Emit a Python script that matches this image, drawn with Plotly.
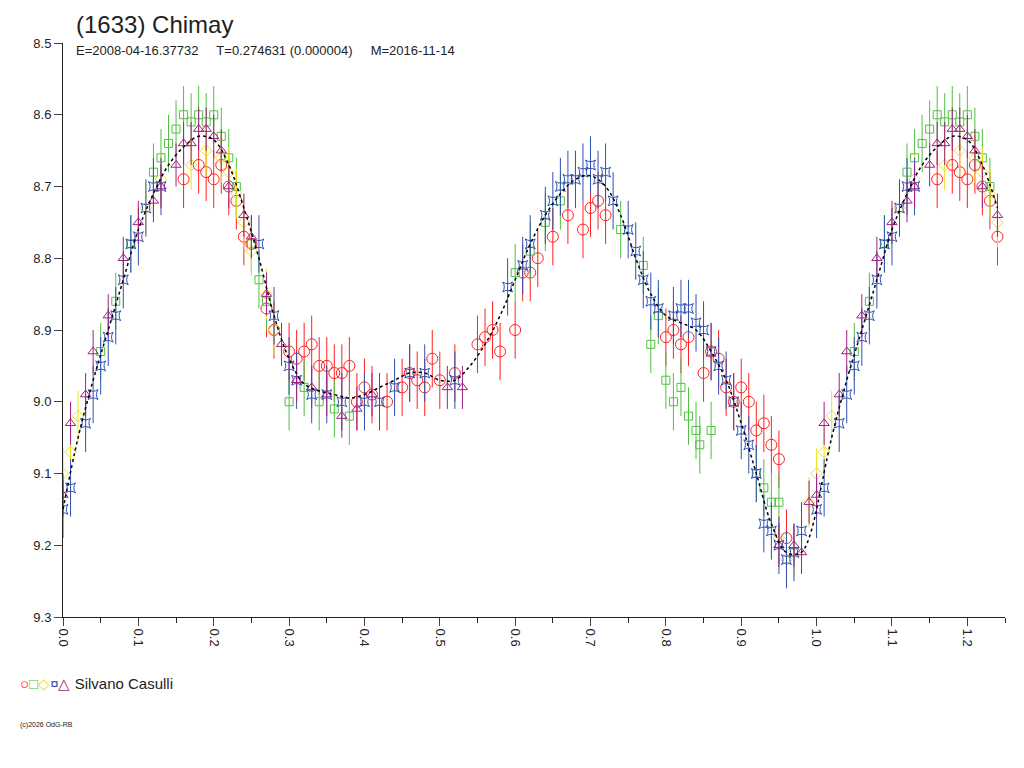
import plotly.graph_objects as go

curve_phase = [0.0,0.02,0.04,0.06,0.08,0.10,0.12,0.14,0.16,0.18,0.20,0.22,0.24,0.26,0.28,0.30,0.32,0.34,0.36,0.38,0.40,0.42,0.44,0.46,0.48,0.50,0.52,0.54,0.56,0.58,0.60,0.62,0.64,0.66,0.68,0.70,0.72,0.74,0.76,0.78,0.80,0.82,0.84,0.86,0.88,0.90,0.92,0.94,0.96,0.98,1.00]
curve_mag = [9.15,9.05,8.97,8.90,8.83,8.76,8.71,8.67,8.645,8.63,8.635,8.67,8.73,8.80,8.88,8.94,8.975,8.985,8.99,8.995,8.99,8.98,8.97,8.96,8.96,8.97,8.97,8.95,8.92,8.88,8.83,8.78,8.74,8.71,8.69,8.685,8.70,8.74,8.80,8.85,8.88,8.89,8.90,8.93,8.97,9.03,9.10,9.17,9.21,9.21,9.15]

red_phase = [0.16,0.18,0.19,0.20,0.21,0.22,0.23,0.24,0.25,0.27,0.28,0.30,0.31,0.32,0.33,0.34,0.35,0.36,0.37,0.38,0.39,0.40,0.41,0.43,0.45,0.46,0.47,0.48,0.49,0.50,0.52,0.55,0.56,0.57,0.58,0.60,0.61,0.62,0.63,0.65,0.67,0.69,0.70,0.71,0.72,0.80,0.81,0.82,0.83,0.85,0.86,0.87,0.88,0.89,0.90,0.91,0.92,0.93,0.94,0.95,0.96]
red_mag = [8.69,8.67,8.68,8.69,8.67,8.70,8.72,8.77,8.78,8.87,8.90,8.93,8.94,8.93,8.92,8.95,8.95,8.96,8.96,8.95,9.00,8.98,8.99,9.00,8.98,8.96,8.97,8.98,8.94,8.97,8.96,8.92,8.91,8.90,8.93,8.90,8.82,8.82,8.80,8.77,8.74,8.76,8.73,8.72,8.74,8.91,8.90,8.92,8.91,8.96,8.93,8.94,8.98,9.00,8.98,9.00,9.04,9.03,9.06,9.08,9.19]

green_phase = [0.05,0.07,0.09,0.12,0.13,0.14,0.15,0.16,0.17,0.18,0.19,0.20,0.21,0.22,0.23,0.25,0.26,0.27,0.30,0.32,0.34,0.36,0.38,0.60,0.62,0.64,0.66,0.74,0.77,0.79,0.78,0.80,0.81,0.82,0.83,0.84,0.845,0.86,0.92,0.93,0.94,0.95]
green_mag = [8.93,8.86,8.78,8.68,8.66,8.64,8.62,8.60,8.61,8.60,8.61,8.60,8.63,8.66,8.70,8.78,8.83,8.86,9.00,8.98,9.00,9.01,9.02,8.82,8.79,8.75,8.72,8.76,8.81,8.88,8.92,8.97,9.00,8.98,9.02,9.04,9.06,9.04,9.10,9.12,9.14,9.14]

yellow_phase = [0.00,0.01,0.02,0.11,0.13,0.17,0.19,0.21,0.22,0.23,0.24,0.25,0.27,0.28,0.95,0.96,0.97,0.99]
yellow_mag = [9.10,9.07,9.02,8.73,8.69,8.67,8.65,8.66,8.68,8.71,8.75,8.79,8.85,8.90,9.19,9.22,9.21,9.14]

blue_phase = [0.00,0.01,0.03,0.04,0.05,0.06,0.07,0.08,0.09,0.10,0.11,0.12,0.13,0.26,0.28,0.30,0.31,0.33,0.35,0.37,0.40,0.42,0.44,0.46,0.48,0.52,0.59,0.61,0.62,0.64,0.65,0.66,0.67,0.68,0.69,0.70,0.71,0.72,0.73,0.75,0.76,0.77,0.78,0.79,0.81,0.82,0.83,0.84,0.85,0.86,0.87,0.88,0.89,0.90,0.91,0.92,0.93,0.94,0.95,0.96,0.97,0.98]
blue_mag = [9.15,9.12,9.03,8.99,8.95,8.91,8.88,8.83,8.78,8.77,8.73,8.70,8.70,8.78,8.88,8.95,8.97,8.99,8.99,9.00,9.00,9.00,8.98,8.96,8.96,8.97,8.84,8.81,8.78,8.74,8.72,8.70,8.69,8.69,8.68,8.67,8.69,8.68,8.72,8.76,8.79,8.83,8.86,8.87,8.88,8.87,8.87,8.89,8.90,8.93,8.95,8.97,9.00,9.04,9.06,9.10,9.17,9.18,9.20,9.22,9.21,9.18]

mag_phase = [0.00,0.01,0.03,0.04,0.06,0.08,0.10,0.12,0.13,0.15,0.16,0.17,0.18,0.19,0.20,0.21,0.22,0.24,0.25,0.27,0.29,0.31,0.33,0.35,0.37,0.39,0.41,0.51,0.53,0.95,0.97,0.98,0.99]
mag_mag = [9.13,9.03,8.99,8.93,8.88,8.80,8.75,8.72,8.70,8.67,8.64,8.64,8.62,8.62,8.63,8.65,8.70,8.74,8.77,8.85,8.92,8.97,8.98,8.99,9.02,9.01,8.99,8.98,8.98,9.20,9.20,9.21,9.14]

series = [
    ("red", red_phase, red_mag, "circle-open", 11, "#ff2020", 0.04),
    ("green", green_phase, green_mag, "square-open", 8, "#50c040", 0.04),
    ("yellow", yellow_phase, yellow_mag, "diamond-open", 9, "#f0e020", 0.035),
    ("blue", blue_phase, blue_mag, "star-square-open", 9, "#3050b0", 0.04),
    ("magenta", mag_phase, mag_mag, "triangle-up-open", 9, "#a02080", 0.03),
]

def extend(ph, mg):
    xs = list(ph) + [p + 1 for p in ph if p < 0.25]
    ys = list(mg) + [m for p, m in zip(ph, mg) if p < 0.25]
    return xs, ys

fig = go.Figure()
for name, ph, mg, sym, sz, col, err in series:
    xs, ys = extend(ph, mg)
    fig.add_trace(go.Scatter(x=xs, y=ys, mode="markers",
        marker=dict(symbol=sym, size=sz, color=col, line=dict(width=1, color=col)),
        error_y=dict(type="constant", value=err, color=col, thickness=1, width=0),
        showlegend=False))

cx, cy = extend(curve_phase, curve_mag)
pairs = sorted(zip(cx, cy))
fig.add_trace(go.Scatter(x=[p[0] for p in pairs], y=[p[1] for p in pairs], mode="lines",
    line=dict(color="black", width=1.5, dash="dot", shape="spline"), showlegend=False))

fig.update_layout(
    width=1008, height=752, paper_bgcolor="white", plot_bgcolor="white",
    margin=dict(l=55, r=11, t=35, b=143, autoexpand=False),
    font=dict(family="Liberation Sans, Arial", color="#222"),
    xaxis=dict(range=[0, 1.25], tickvals=[0,0.1,0.2,0.3,0.4,0.5,0.6,0.7,0.8,0.9,1.0,1.1,1.2],
               ticktext=["0.0","0.1","0.2","0.3","0.4","0.5","0.6","0.7","0.8","0.9","1.0","1.1","1.2"],
               tickangle=90, ticks="outside", ticklen=8, showline=True, linecolor="#222",
               showgrid=False, zeroline=False, tickfont=dict(size=13),
               minor=dict(dtick=0.05, ticks="outside", ticklen=5, tickcolor="#222")),
    yaxis=dict(range=[9.3, 8.5], dtick=0.1, tickformat=".1f", ticks="outside", ticklen=8,
               showline=True, linecolor="#222", showgrid=False, zeroline=False, tickfont=dict(size=13)),
)
fig.add_annotation(text="(1633) Chimay", xref="paper", yref="paper", x=0.012, y=1.0, yshift=3,
                   xanchor="left", yanchor="bottom", showarrow=False, font=dict(size=24, color="#222"))
fig.add_annotation(text="E=2008-04-16.37732     T=0.274631 (0.000004)     M=2016-11-14",
                   xref="paper", yref="paper", x=0.012, y=1.0, yshift=2, xanchor="left", yanchor="top",
                   showarrow=False, font=dict(size=13, color="#222"))
fig.add_annotation(text="<span style='color:#ff2020'>○</span><span style='color:#50c040'>□</span><span style='color:#f0e020'>◇</span><span style='color:#3050b0'>¤</span><span style='color:#a02080'>△</span> Silvano Casulli",
                   xref="paper", yref="paper", x=-0.048, y=-0.115, xanchor="left", yanchor="middle",
                   showarrow=False, font=dict(size=15, color="#222"))
fig.add_annotation(text="(c)2026 OdG-RB", xref="paper", yref="paper", x=-0.048, y=-0.188,
                   xanchor="left", yanchor="middle", showarrow=False, font=dict(size=7, color="#222"))
fig.write_html("out.html")
